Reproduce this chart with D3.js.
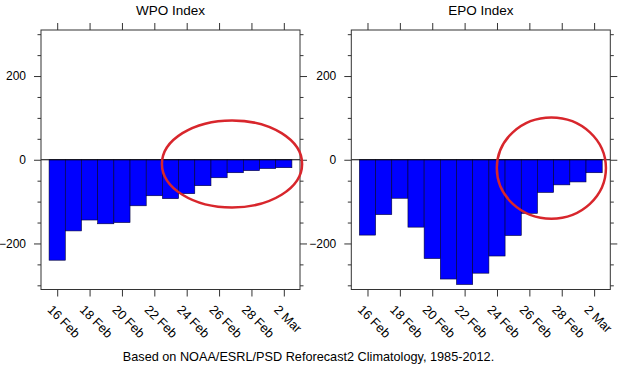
<!DOCTYPE html>
<html>
<head>
<meta charset="utf-8">
<title>WPO / EPO Index</title>
<script src="https://cdn.jsdelivr.net/npm/d3@7/dist/d3.min.js"></script>
<style>
  * { margin: 0; padding: 0; }
  body { background: #fff; }
  text { font-family: "Liberation Sans", Arial, Helvetica, sans-serif; fill: #000; }
</style>
</head>
<body>
<div id="show"></div>
<script>
// days from 16 Feb to 2 Mar
var days = ["16 Feb","17 Feb","18 Feb","19 Feb","20 Feb","21 Feb","22 Feb","23 Feb",
            "24 Feb","25 Feb","26 Feb","27 Feb","28 Feb","1 Mar","2 Mar"];
var wpo = [-240, -170, -144, -153, -150, -110, -86, -93, -81, -62, -43, -31, -26, -21, -19];
var epo = [-180, -131, -92, -161, -236, -285, -298, -271, -230, -181, -128, -78, -60, -53, -31];
var yTicks = [-200, 0, 200];
var yMinor = [-300, -250, -150, -100, -50, 50, 100, 150, 250, 300];
// red circles drawn on top: centre (day index, value), radii in the same units
var rings = [
  {panel: 0, cx: 10.8, cy: -10, rx: 4.33, ry: 104},
  {panel: 1, cx: 11.36, cy: -20, rx: 3.37, ry: 121}
];
var panels = [
  {title: "WPO Index", values: wpo, left: 41},
  {title: "EPO Index", values: epo, left: 351.3}
];

var W = 625, H = 370;
var pw = 259, top0 = 30, bot0 = 289.5;

var svg = d3.select("#show").append("svg")
  .attr("width", W).attr("height", H);

var y = d3.scaleLinear().domain([-310, 310]).range([bot0, top0]);

panels.forEach(function(p, k) {
  var x = d3.scaleLinear().domain([-1, 15]).range([p.left, p.left + pw]);
  var g = svg.append("g");

  // bars
  g.selectAll("rect.bar").data(p.values).enter().append("rect")
    .attr("class", "bar")
    .attr("x", function(d, i) { return x(i - 0.5); })
    .attr("width", function(d, i) { return x(i + 0.5) - x(i - 0.5); })
    .attr("y", function(d) { return Math.min(y(d), y(0)); })
    .attr("height", function(d) { return Math.abs(y(d) - y(0)); })
    .attr("fill", "#0000ff")
    .attr("stroke", "#000033")
    .attr("stroke-width", 0.6);

  // zero line
  g.append("line")
    .attr("x1", x(-1)).attr("x2", x(15))
    .attr("y1", y(0)).attr("y2", y(0))
    .attr("stroke", "#000").attr("stroke-width", 1);

  // frame
  g.append("rect")
    .attr("x", x(-1)).attr("y", top0)
    .attr("width", pw).attr("height", bot0 - top0)
    .attr("fill", "none").attr("stroke", "#333").attr("stroke-width", 1);

  var idx = d3.range(0, 15, 2);

  // y axes, major + minor
  g.append("g").attr("transform", "translate(" + x(-1) + ",0)")
    .call(d3.axisLeft(y).tickValues(yTicks).tickSize(7).tickPadding(8));
  g.append("g").attr("transform", "translate(" + x(15) + ",0)")
    .call(d3.axisRight(y).tickValues(yTicks).tickSize(7).tickFormat(""));
  g.append("g").attr("transform", "translate(" + x(-1) + ",0)")
    .call(d3.axisLeft(y).tickValues(yMinor).tickSize(3.5).tickFormat(""));
  g.append("g").attr("transform", "translate(" + x(15) + ",0)")
    .call(d3.axisRight(y).tickValues(yMinor).tickSize(3.5).tickFormat(""));

  // x axes
  g.append("g").attr("transform", "translate(0," + top0 + ")")
    .call(d3.axisTop(x).tickValues(idx).tickSize(7).tickFormat(""));
  var xb = g.append("g").attr("transform", "translate(0," + bot0 + ")")
    .call(d3.axisBottom(x).tickValues(idx).tickSize(7).tickFormat(function(i) { return days[i]; }));

  g.selectAll(".domain").remove();
  g.selectAll(".tick line").attr("stroke", "#333");
  g.selectAll(".tick text")
    .style("font-family", "'Liberation Sans', Arial, Helvetica, sans-serif")
    .style("font-size", "12px").attr("fill", "#000");

  xb.selectAll("text")
    .attr("text-anchor", "start")
    .attr("y", 0).attr("dy", 0)
    .style("font-size", "12.8px")
    .attr("transform", "translate(-11,21) rotate(45)");

  // title
  g.append("text")
    .attr("x", x(7)).attr("y", 15)
    .attr("text-anchor", "middle")
    .style("font-size", "13.5px")
    .text(p.title);

  // red ring
  rings.filter(function(r) { return r.panel === k; }).forEach(function(r) {
    g.append("ellipse")
      .attr("cx", x(r.cx)).attr("cy", y(r.cy))
      .attr("rx", x(r.cx + r.rx) - x(r.cx))
      .attr("ry", y(r.cy - r.ry) - y(r.cy))
      .attr("fill", "none")
      .attr("stroke", "#d8262c")
      .attr("stroke-width", 2.5);
  });
});

svg.append("text")
  .attr("x", 308.5).attr("y", 361)
  .attr("text-anchor", "middle")
  .style("font-size", "12.7px")
  .text("Based on NOAA/ESRL/PSD Reforecast2 Climatology, 1985-2012.");
</script>
</body>
</html>
